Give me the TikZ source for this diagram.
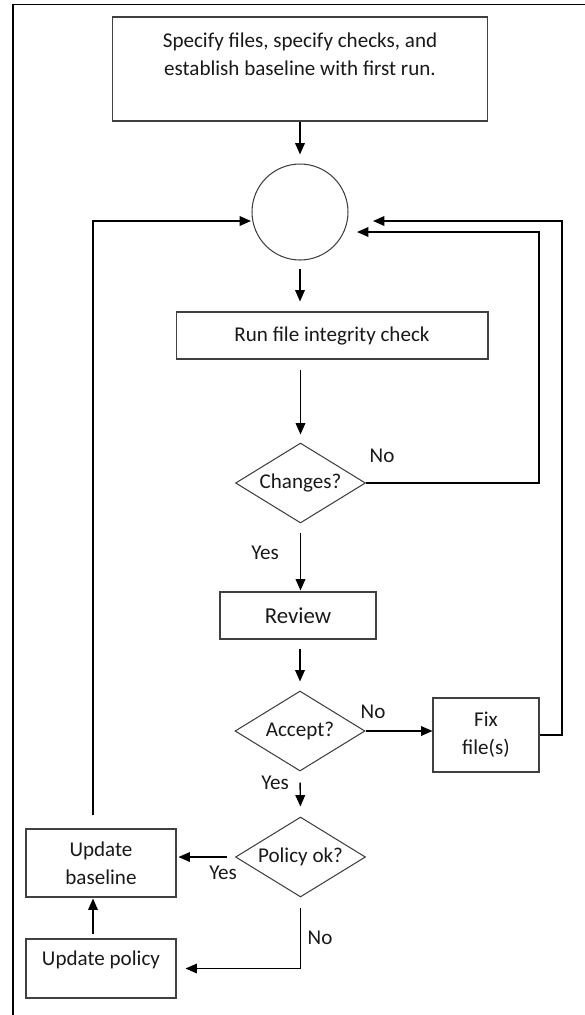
\documentclass[tikz,border=0pt]{standalone}
\usepackage{fontspec}
\setmainfont{Carlito}
\usetikzlibrary{shapes.geometric,arrows.meta}
\begin{document}
\begin{tikzpicture}[x=0.02cm,y=-0.02cm,
  txt/.style={font=\fontsize{12}{16}\selectfont,text=black!90,align=center},
  flowbox/.style={draw=black!75,line width=0.6pt,inner sep=0pt},
  decide/.style={diamond,draw=black!75,line width=0.6pt,inner sep=0pt,shape aspect=1.5,minimum width=2.6cm,minimum height=1.6cm},
  flow/.style={-{Triangle[length=6.5pt,width=5.5pt]},line width=0.8pt}]
\useasboundingbox(0,0)rectangle(585,1015);
\draw[line width=1.1pt](13,1030)--(13,4.5)--(600,4.5);
% boxes
\node[flowbox,minimum width=7.52cm,minimum height=2.08cm](start)at(300,69){};
\node[txt](starttxt)at(300,54){Specify files, specify checks, and\\establish baseline with first run.};
\node[flowbox,circle,minimum size=1.92cm](hub)at(300,212){};
\node[flowbox,txt,minimum width=6.24cm,minimum height=0.94cm](run)at(332,335.5){Run file integrity check};
\node[decide,txt](changes)at(300.5,483){Changes?};
\node[flowbox,txt,font=\fontsize{13}{16}\selectfont,minimum width=3.12cm,minimum height=0.94cm](review)at(298,615.5){Review};
\node[decide,txt](accept)at(300,731){Accept?};
\node[flowbox,txt,minimum width=2.12cm,minimum height=1.48cm](fix)at(486,735){Fix\\file(s)};
\node[decide,txt](policy)at(300.5,857){Policy ok?};
\node[flowbox,txt,minimum width=3cm,minimum height=1.36cm](baseline)at(101,863){Update\\baseline};
\node[flowbox,minimum width=3cm,minimum height=1.18cm](polbox)at(101,968.5){};
\node[txt](poltxt)at(101,960){Update policy};
% loop lines
\coordinate(leftx)at(93,0);
\coordinate(innerx)at(539,0);
\coordinate(outerx)at(562,0);
\coordinate(inback)at(357,232);
\coordinate(outback)at(373,221);
\coordinate(leftin)at(251,221);
% arrows
\draw[flow,shorten >=0.18cm](start)--(hub);
\draw[flow,shorten <=0.16cm,shorten >=0.2cm](hub.south)--(hub.south|-run.north);
\draw[flow,shorten <=0.2cm,shorten >=0.16cm](run.south-|changes.north)--(changes.north);
\draw[flow,shorten <=0.18cm,shorten >=0.02cm](changes.south)--(review.north-|changes.south);
\draw[flow,shorten <=0.18cm,shorten >=0.18cm](review.south-|accept.north)--(accept.north);
\draw[flow,shorten <=0.22cm,shorten >=0.2cm](accept.south)--(policy.north);
\draw[flow](accept.east)--(accept.east-|fix.west);
\draw[flow,shorten <=0.16cm,shorten >=0.04cm](policy.west)--(policy.west-|baseline.east);
\draw[flow,shorten <=0.2cm,shorten >=0.18cm](policy.south)|-(polbox.east);
\draw[flow,shorten <=0.08cm,shorten >=0.02cm](polbox.north-|leftx)--(baseline.south-|leftx);
\draw[flow,shorten <=0.26cm](baseline.north-|leftx)|-(leftin);
\draw[flow](changes.east)-|(innerx|-inback)--(inback);
\draw[flow](fix.east)-|(outerx|-outback)--(outback);
% labels
\node[txt](nochg)at(382,456){No};
\node[txt](yeschg)at(265,553){Yes};
\node[txt](noacc)at(373,712){No};
\node[txt](yesacc)at(275,783){Yes};
\node[txt](yespol)at(223,873){Yes};
\node[txt](nopol)at(320,938){No};
\end{tikzpicture}
\end{document}
